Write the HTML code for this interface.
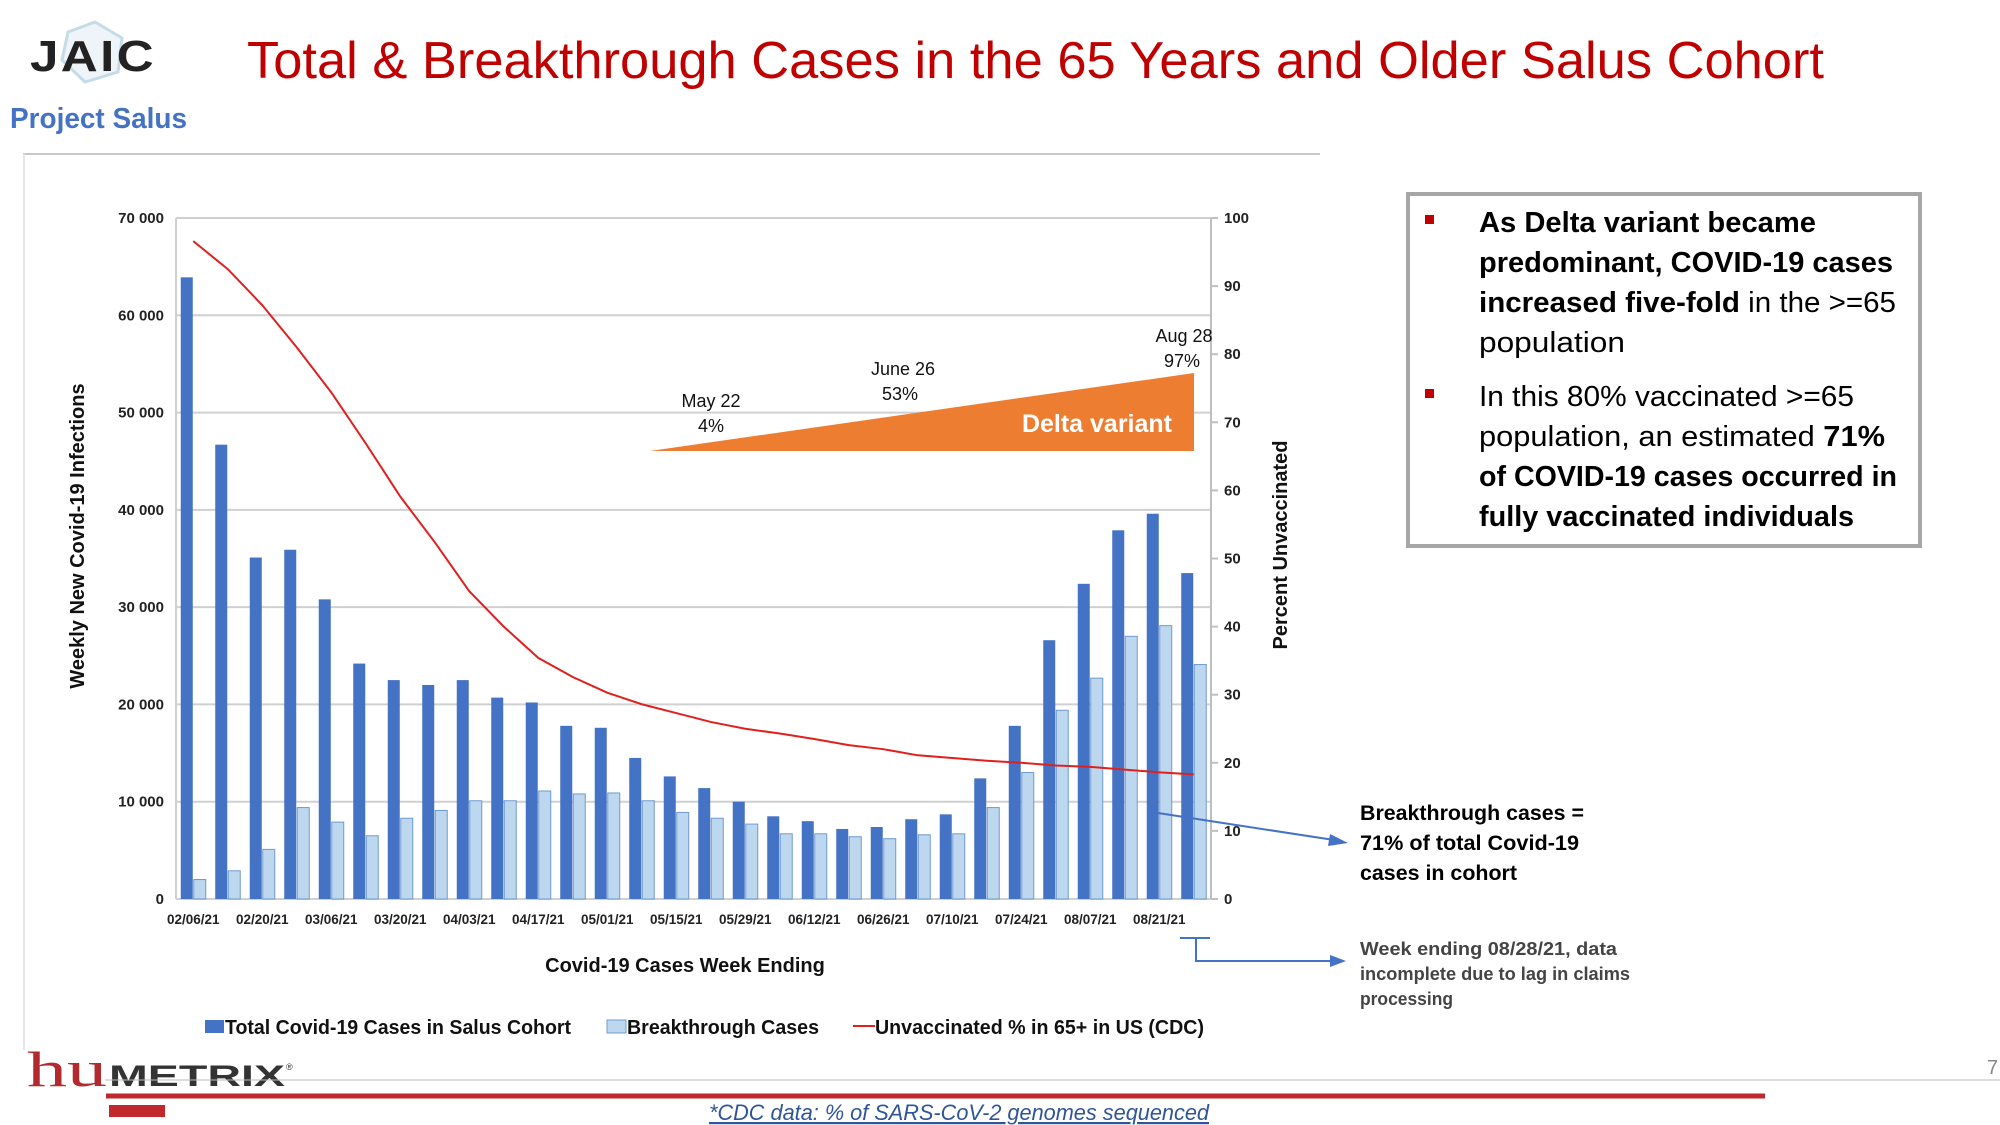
<!DOCTYPE html>
<html><head><meta charset="utf-8"><style>
html,body{margin:0;padding:0;background:#fff}
svg{display:block;font-family:"Liberation Sans",sans-serif}
</style></head><body>
<svg id="chart" width="2000" height="1125" viewBox="0 0 2000 1125" xmlns="http://www.w3.org/2000/svg">
<g>
  <g>
    <polygon points="95,22 122,38 118,72 85,82 62,60 68,32" fill="#eef4f8" stroke="#c6dbe8" stroke-width="3"/>
    <text x="93" y="71" font-size="44" font-weight="bold" fill="#222" text-anchor="middle" textLength="126" lengthAdjust="spacingAndGlyphs" letter-spacing="2">JAIC</text>
  </g>
  <text x="10" y="128" font-size="29" font-weight="bold" fill="#4472c4" textLength="177" lengthAdjust="spacingAndGlyphs">Project Salus</text>
  <text x="247" y="78" font-size="52" fill="#c00000" textLength="1577" lengthAdjust="spacingAndGlyphs">Total &amp; Breakthrough Cases in the 65 Years and Older Salus Cohort</text>
  <line x1="23" y1="154" x2="1320" y2="154" stroke="#c8c8c8" stroke-width="2"/>
  <line x1="24" y1="154" x2="24" y2="1050" stroke="#e6e6e6" stroke-width="2"/>
</g>
<g id="plot"></g>
<g>
  <rect x="1408" y="194" width="512" height="352" fill="#fff" stroke="#a6a6a6" stroke-width="4"/>
  <rect x="1425" y="215" width="9" height="9" fill="#c00000"/>
  <rect x="1425" y="389" width="9" height="9" fill="#c00000"/>
  <g font-size="29" fill="#000">
    <text x="1479" y="232" font-weight="bold" textLength="337" lengthAdjust="spacingAndGlyphs">As Delta variant became</text>
    <text x="1479" y="272" font-weight="bold" textLength="414" lengthAdjust="spacingAndGlyphs">predominant, COVID-19 cases</text>
    <text x="1479" y="312" textLength="417" lengthAdjust="spacingAndGlyphs"><tspan font-weight="bold">increased five-fold</tspan> in the &gt;=65</text>
    <text x="1479" y="352" textLength="146" lengthAdjust="spacingAndGlyphs">population</text>
    <text x="1479" y="406" textLength="375" lengthAdjust="spacingAndGlyphs">In this 80% vaccinated &gt;=65</text>
    <text x="1479" y="446" textLength="406" lengthAdjust="spacingAndGlyphs">population, an estimated <tspan font-weight="bold">71%</tspan></text>
    <text x="1479" y="486" font-weight="bold" textLength="418" lengthAdjust="spacingAndGlyphs">of COVID-19 cases occurred in</text>
    <text x="1479" y="526" font-weight="bold" textLength="375" lengthAdjust="spacingAndGlyphs">fully vaccinated individuals</text>
  </g>
</g>
<g>
  <line x1="1158" y1="813" x2="1334" y2="840" stroke="#4472c4" stroke-width="2"/>
  <polygon points="1348,843 1330,834 1328,846" fill="#4472c4"/>
  <g font-size="21" font-weight="bold" fill="#000">
    <text x="1360" y="820" textLength="224" lengthAdjust="spacingAndGlyphs">Breakthrough cases =</text>
    <text x="1360" y="850" textLength="219" lengthAdjust="spacingAndGlyphs">71% of total Covid-19</text>
    <text x="1360" y="880" textLength="157" lengthAdjust="spacingAndGlyphs">cases in cohort</text>
  </g>
</g>
<g>
  <line x1="1180" y1="938" x2="1210" y2="938" stroke="#4472c4" stroke-width="2"/>
  <polyline points="1196,938 1196,961 1332,961" fill="none" stroke="#4472c4" stroke-width="2"/>
  <polygon points="1346,961 1330,955 1330,967" fill="#4472c4"/>
  <g font-size="18" font-weight="bold" fill="#444">
    <text x="1360" y="955" textLength="257" lengthAdjust="spacingAndGlyphs">Week ending 08/28/21, data</text>
    <text x="1360" y="980" textLength="270" lengthAdjust="spacingAndGlyphs">incomplete due to lag in claims</text>
    <text x="1360" y="1005" textLength="93" lengthAdjust="spacingAndGlyphs">processing</text>
  </g>
</g>
<g>
  <g>
    <text x="27" y="1086" font-size="50" fill="#b22a2e" font-family="Liberation Serif,serif" textLength="80" lengthAdjust="spacingAndGlyphs">hu</text>
    <text x="109" y="1086" font-size="30" font-weight="bold" fill="#333" textLength="176" lengthAdjust="spacingAndGlyphs">METRIX</text>
    <text x="286" y="1070" font-size="9" fill="#333">®</text>
  </g>
  <line x1="105" y1="1080" x2="2000" y2="1080" stroke="#bbb" stroke-width="1"/>
  <line x1="106" y1="1096" x2="1765" y2="1096" stroke="#c0282d" stroke-width="5"/>
  <rect x="109" y="1105" width="56" height="12" fill="#c0282d"/>
  <text x="959" y="1120" font-size="22" font-style="italic" fill="#2f5597" text-anchor="middle" text-decoration="underline" textLength="500" lengthAdjust="spacingAndGlyphs">*CDC data: % of SARS-CoV-2 genomes sequenced</text>
  <text x="1987" y="1074" font-size="20" fill="#888">7</text>
</g>
</svg>
<script>
const categories = ["02/06/21","02/13/21","02/20/21","02/27/21","03/06/21","03/13/21","03/20/21","03/27/21","04/03/21","04/10/21","04/17/21","04/24/21","05/01/21","05/08/21","05/15/21","05/22/21","05/29/21","06/05/21","06/12/21","06/19/21","06/26/21","07/03/21","07/10/21","07/17/21","07/24/21","07/31/21","08/07/21","08/14/21","08/21/21","08/28/21"];
const totalCases = [63900,46700,35100,35900,30800,24200,22500,22000,22500,20700,20200,17800,17600,14500,12600,11400,10000,8500,8000,7200,7400,8200,8700,12400,17800,26600,32400,37900,39600,33500];
const breakthroughCases = [2000,2900,5100,9400,7900,6500,8300,9100,10100,10100,11100,10800,10900,10100,8900,8300,7700,6700,6700,6400,6200,6600,6700,9400,13000,19400,22700,27000,28100,24100];
const unvaccinatedPct = [96.6,92.5,87.2,81,74.4,66.9,59.1,52.4,45.2,40,35.4,32.6,30.3,28.6,27.3,26,25,24.3,23.5,22.6,22,21.1,20.7,20.3,20,19.6,19.4,19,18.6,18.3];
const leftTicks = [0,10000,20000,30000,40000,50000,60000,70000];
const rightTicks = [0,10,20,30,40,50,60,70,80,90,100];

const NS="http://www.w3.org/2000/svg";
const g=document.getElementById('plot');
const X0=176,X1=1211,Y0=899,Y1=218;
const band=(X1-X0)/categories.length;
const yL=v=>Y0-(v/70000)*(Y0-Y1);
const yR=v=>Y0-(v/100)*(Y0-Y1);
const xC=i=>X0+band*(i+0.5);
function mk(tag,attrs,parent){const e=document.createElementNS(NS,tag);for(const k in attrs)e.setAttribute(k,attrs[k]);(parent||g).appendChild(e);return e;}
function fmt(v){return v===0?"0":String(v).replace(/(\d)(?=(\d{3})+$)/,"$1 ");}

leftTicks.forEach(t=>{
  const l=mk('line',{x1:X0,x2:X1,y1:yL(t),y2:yL(t),stroke:'#d0d0d0','stroke-width':2});
  
  
  const tx=mk('text',{x:X0-12,y:yL(t)+5,'font-size':15,'font-weight':'bold','text-anchor':'end',fill:'#222'});
  tx.textContent=fmt(t);
  
  
});
mk('line',{x1:X0,x2:X0,y1:Y1,y2:Y0,stroke:'#d0d0d0','stroke-width':2});
mk('line',{x1:X1,x2:X1,y1:Y1,y2:Y0,stroke:'#bfbfbf','stroke-width':2});
rightTicks.forEach(t=>{
  mk('line',{x1:X1,x2:X1+7,y1:yR(t),y2:yR(t),stroke:'#bfbfbf','stroke-width':2});
  const tx=mk('text',{x:X1+13,y:yR(t)+5,'font-size':15,'font-weight':'bold',fill:'#222'});
  tx.textContent=t;
  
  
});

const tri=mk('polygon',{points:'650,451 1194,451 1194,373',fill:'#ed7d31'});


[[1172,432,'Delta variant',25,'bold','#fff','end'],[711,407,'May 22',18,'normal','#111','middle'],[711,432,'4%',18,'normal','#111','middle'],[903,375,'June 26',18,'normal','#111','middle'],[900,400,'53%',18,'normal','#111','middle'],[1184,342,'Aug 28',18,'normal','#111','middle'],[1182,367,'97%',18,'normal','#111','middle']].forEach(a=>{
  const t=mk('text',{x:a[0],y:a[1],'font-size':a[3],'font-weight':a[4],fill:a[5],'text-anchor':a[6]});
  t.textContent=a[2];
  
  
});

const bw=12;
categories.forEach((c,i)=>{
  const cx=xC(i);
  const b=mk('rect',{x:cx-bw-0.5,y:yL(totalCases[i]),width:bw,height:Y0-yL(totalCases[i]),fill:'#4472c4'});
  
  
  const b2=mk('rect',{x:cx+0.5,y:yL(breakthroughCases[i]),width:bw,height:Y0-yL(breakthroughCases[i]),fill:'#bdd7ee',stroke:'#6f9bd1','stroke-width':1});
  
  
  if(i%2===0 && i<29){
    const t=mk('text',{x:cx,y:924,'font-size':13.5,'font-weight':'bold','text-anchor':'middle',fill:'#222'});
    t.textContent=c;
    
    
  }
});

const pl=mk('polyline',{points:unvaccinatedPct.map((v,i)=>xC(i)+','+yR(v)).join(' '),fill:'none',stroke:'#e0201e','stroke-width':2});



let t=mk('text',{x:685,y:972,'font-size':20,'font-weight':'bold','text-anchor':'middle',fill:'#111'});
t.textContent='Covid-19 Cases Week Ending';


t=mk('text',{x:0,y:0,'font-size':20,'font-weight':'bold','text-anchor':'middle',fill:'#111',transform:'translate(84,536) rotate(-90)'});
t.textContent='Weekly New Covid-19 Infections';


t=mk('text',{x:0,y:0,'font-size':20,'font-weight':'bold','text-anchor':'middle',fill:'#111',transform:'translate(1287,545) rotate(-90)'});
t.textContent='Percent Unvaccinated';



const lg=mk('g',{});


mk('rect',{x:205,y:1020,width:19,height:13,fill:'#4472c4'},lg);
mk('rect',{x:607,y:1020,width:19,height:13,fill:'#bdd7ee',stroke:'#6f9bd1'},lg);
mk('line',{x1:853,x2:875,y1:1026,y2:1026,stroke:'#e0201e','stroke-width':2},lg);
[[225,'Total Covid-19 Cases in Salus Cohort',346],[627,'Breakthrough Cases',192],[875,'Unvaccinated % in 65+ in US (CDC)',329]].forEach(a=>{
  const e=mk('text',{x:a[0],y:1034,'font-size':20,'font-weight':'bold',fill:'#111',textLength:a[2],lengthAdjust:'spacingAndGlyphs'},lg);
  e.textContent=a[1];
  
  
});
</script>
</body></html>
